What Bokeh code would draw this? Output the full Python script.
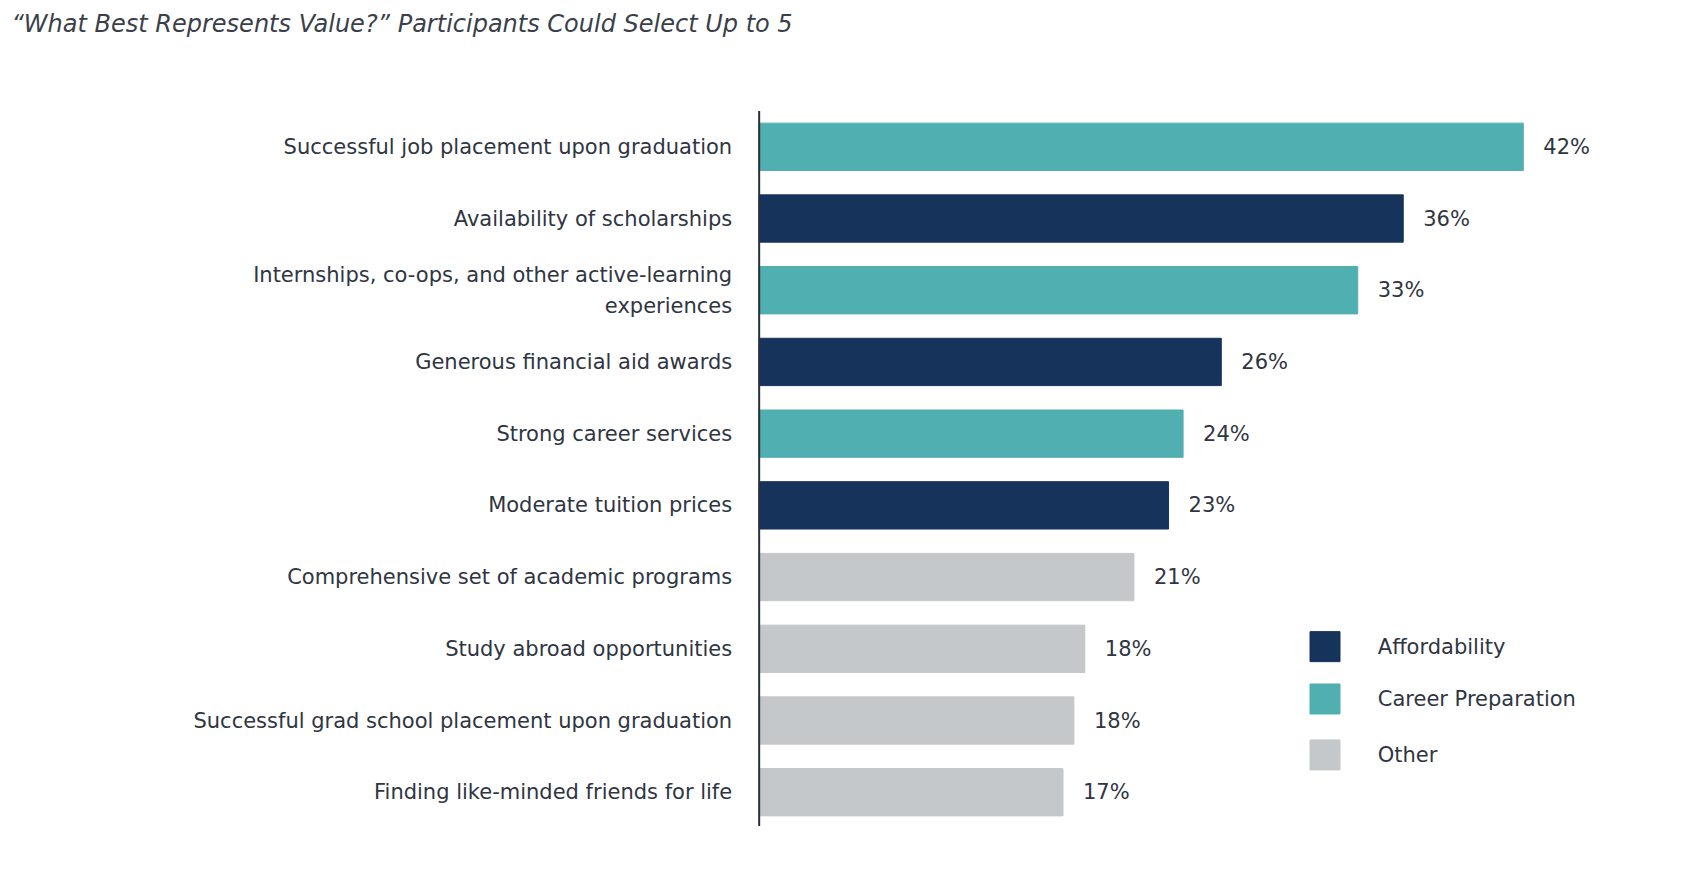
from bokeh.plotting import figure
from bokeh.models import Range1d, ColumnDataSource
from bokeh.core.properties import value
from bokeh.embed import file_html
from bokeh.resources import INLINE

categories = ["Successful job placement upon graduation", "Availability of scholarships",
              "Internships, co-ops, and other active-learning\nexperiences", "Generous financial aid awards",
              "Strong career services", "Moderate tuition prices", "Comprehensive set of academic programs",
              "Study abroad opportunities", "Successful grad school placement upon graduation",
              "Finding like-minded friends for life"]
values = [42.0, 35.4, 32.9, 25.4, 23.3, 22.5, 20.6, 17.9, 17.3, 16.7]
labels = ["42%", "36%", "33%", "26%", "24%", "23%", "21%", "18%", "18%", "17%"]
groups = ["Career Preparation", "Affordability", "Career Preparation", "Affordability", "Career Preparation",
          "Affordability", "Other", "Other", "Other", "Other"]
legend_names = ["Affordability", "Career Preparation", "Other"]
legend_colors = ["#15335B", "#50AFB0", "#C5C8CB"]
cmap = dict(zip(legend_names, legend_colors))

FONT = value("DejaVu Sans")
TXT = "#2f3542"

p = figure(width=1672, height=862, output_backend="svg", toolbar_location=None,
           x_range=Range1d(-41.7, 50.2), y_range=Range1d(-9.98, 2.04), min_border=0)
p.axis.visible = False
p.grid.visible = False
p.outline_line_color = None

ys = [-i for i in range(len(categories))]
src = ColumnDataSource(dict(y=ys, v=values, cat=categories, lab=labels,
                            color=[cmap[g] for g in groups]))
p.hbar(y="y", left=0, right="v", height=0.66, color="color", source=src)
p.segment(x0=[0], y0=[0.5], x1=[0], y1=[-9.47], line_color="#2a2f3a", line_width=2)
p.text(x=0, y="y", text="cat", source=src, x_offset=-27, text_align="right", text_baseline="middle",
       text_font=FONT, text_font_size="21px", text_color=TXT, text_line_height=1.3)
p.text(x="v", y="y", text="lab", source=src, x_offset=20, text_align="left", text_baseline="middle",
       text_font=FONT, text_font_size="21px", text_color=TXT)

p.text(x=[-41.1], y=[1.71], text=["\u201cWhat Best Represents Value?\u201d Participants Could Select Up to 5"],
       text_font=FONT, text_font_size="24px", text_font_style="italic", text_color="#3a3f4a",
       text_baseline="middle")

ly = [-6.97, -7.70, -8.48]
p.scatter(x=[31.1] * 3, y=ly, marker="square", size=30, color=legend_colors)
p.text(x=[34.0] * 3, y=ly, text=legend_names, text_font=FONT, text_font_size="21px",
       text_color=TXT, text_baseline="middle")

open("out.html", "w").write(file_html(p, INLINE))
